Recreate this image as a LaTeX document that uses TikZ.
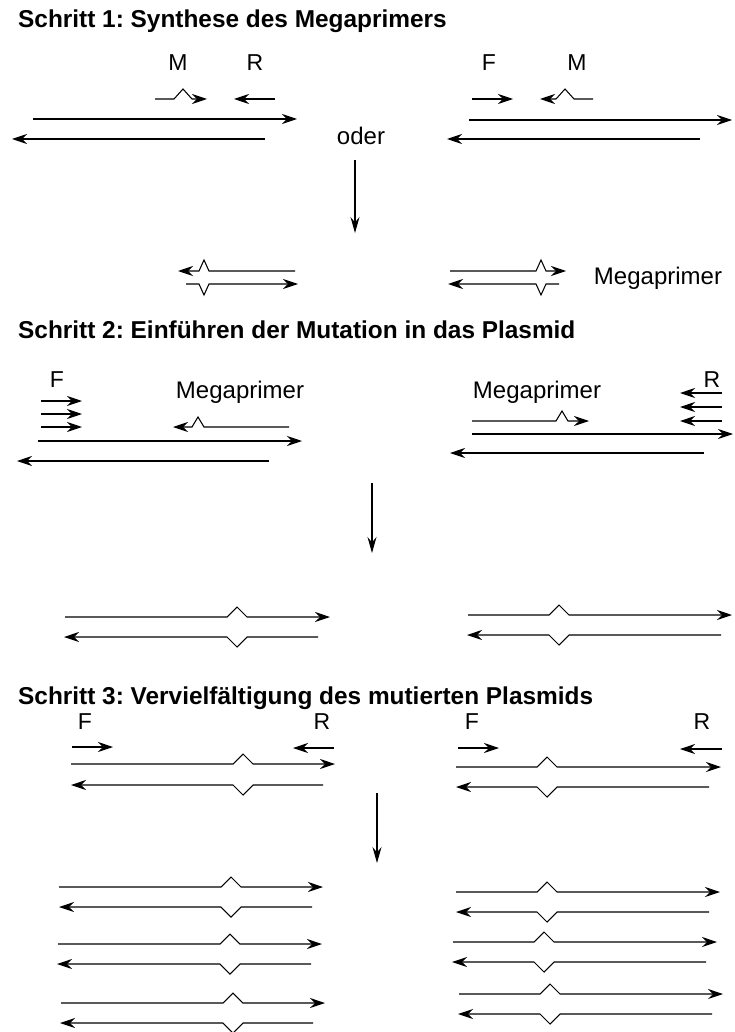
\documentclass[tikz,border=0pt]{standalone}
\usepackage{fontspec}
\setmainfont{Liberation Sans}
\usetikzlibrary{arrows.meta}
\frenchspacing

% forward (left-to-right) and reverse strands with a kink at the mutation site
% #1 start x, #2 tip x, #3 y, #4 kink x, #5 kink half width, #6 kink height (neg = up)
\newcommand{\dnafwd}[6]{\draw[strand] (#1,#3) -- ({#4-#5},#3) -- (#4,{#3+#6}) -- ({#4+#5},#3) -- (#2,#3);}
\newcommand{\dnarev}[6]{\draw[strand] (#1,#3) -- ({#4+#5},#3) -- (#4,{#3+#6}) -- ({#4-#5},#3) -- (#2,#3);}
\newcommand{\dnaline}[3]{\draw[strand] (#1,#3) -- (#2,#3);}

\begin{document}
\begin{tikzpicture}[x=1pt,y=-1pt,
  strand/.style={line width=1.05pt,line join=miter,-{Stealth[length=15pt,width=10pt,inset=5pt]}},
  flow/.style={line width=1.05pt,-{Stealth[length=16pt,width=9pt,inset=5.5pt]}},
  heading/.style={anchor=base west,inner sep=0pt,font=\fontsize{24.4}{28}\selectfont\bfseries},
  lbl/.style={inner sep=0pt,font=\fontsize{23}{27}\selectfont},
  biglbl/.style={inner sep=0pt,font=\fontsize{24}{28}\selectfont}]
\useasboundingbox (0,0) rectangle (735,1032);

% ---------- Schritt 1 ----------
\node[heading] (h1) at (18,28) {Schritt 1: Synthese des Megaprimers};

\node[lbl] (m1) at (178,63) {M};
\node[lbl] (r1) at (255,63) {R};
\dnafwd{155}{207}{99}{183}{9}{-10}
\dnaline{275}{234}{99}
\dnaline{33}{297}{119}
\dnaline{265}{12}{139}

\node[biglbl,anchor=base] (oder) at (361,145) {oder};

\node[lbl] (f1) at (489,63) {F};
\node[lbl] (m2) at (577,63) {M};
\dnaline{472}{513}{99}
\dnarev{593}{540}{99}{565}{9}{-10}
\dnaline{469}{732}{120}
\dnaline{700}{447}{139}

\coordinate (a1s) at (355,160);
\coordinate (a1e) at (355,233);
\draw[flow] (a1s) -- (a1e);

\dnarev{295}{178}{271}{204}{5}{-11}
\dnafwd{186}{298}{284}{204}{5}{11}
\dnafwd{450}{566}{271}{541}{5}{-11}
\dnarev{559}{448}{284}{541}{5}{11}
\node[biglbl] (mp1) at (658,278) {Megaprimer};

% ---------- Schritt 2 ----------
\node[heading] (h2) at (18,338) {Schritt 2: Einführen der Mutation in das Plasmid};

\node[lbl] (f2) at (57,380) {F};
\dnaline{41}{82}{401}
\dnaline{41}{82}{414}
\dnaline{41}{82}{427}
\node[biglbl] (mp2) at (240,392) {Megaprimer};
\dnarev{289}{173}{427}{198}{6}{-10}
\dnaline{38}{302}{441}
\dnaline{269}{17}{461}

\node[biglbl] (mp3) at (537,392) {Megaprimer};
\node[lbl] (r2) at (712,380) {R};
\dnaline{722}{680}{393}
\dnaline{722}{680}{407}
\dnaline{722}{680}{421}
\dnafwd{472}{589}{421}{562}{6}{-10}
\dnaline{472}{733}{434}
\dnaline{704}{450}{453}

\coordinate (a2s) at (372,483);
\coordinate (a2e) at (372,553);
\draw[flow] (a2s) -- (a2e);

\dnafwd{65}{330}{617}{237}{10}{-10}
\dnarev{318}{64}{637}{237}{10}{10}
\dnafwd{468}{732}{615}{559}{10}{-10}
\dnarev{721}{467}{635}{559}{10}{10}

% ---------- Schritt 3 ----------
\node[heading] (h3) at (18,704) {Schritt 3: Vervielfältigung des mutierten Plasmids};

\node[lbl] (f3) at (85,722) {F};
\node[lbl] (r3) at (322,722) {R};
\dnaline{72}{113}{747}
\dnaline{334}{293}{748}
\dnafwd{71}{335}{764}{243}{10}{-10}
\dnarev{323}{71}{785}{243}{10}{10}

\node[lbl] (f4) at (472,722) {F};
\node[lbl] (r4) at (702,722) {R};
\dnaline{458}{499}{748}
\dnaline{722}{680}{749}
\dnafwd{456}{721}{767}{547}{10}{-10}
\dnarev{709}{456}{787}{547}{10}{10}

\coordinate (a3s) at (377,793);
\coordinate (a3e) at (377,863);
\draw[flow] (a3s) -- (a3e);

\dnafwd{59}{323}{887}{231}{10}{-10}
\dnarev{312}{59}{907}{231}{10}{10}
\dnafwd{58}{322}{944}{230}{10}{-10}
\dnarev{311}{57}{964}{230}{10}{10}
\dnafwd{61}{325}{1003}{233}{10}{-10}
\dnarev{313}{60}{1023}{233}{10}{10}

\dnafwd{456}{720}{892}{547}{10}{-10}
\dnarev{709}{456}{912}{547}{10}{10}
\dnafwd{453}{717}{942}{544}{10}{-10}
\dnarev{706}{452}{962}{544}{10}{10}
\dnafwd{459}{723}{994}{550}{10}{-10}
\dnarev{712}{458}{1014}{550}{10}{10}
\end{tikzpicture}
\end{document}
